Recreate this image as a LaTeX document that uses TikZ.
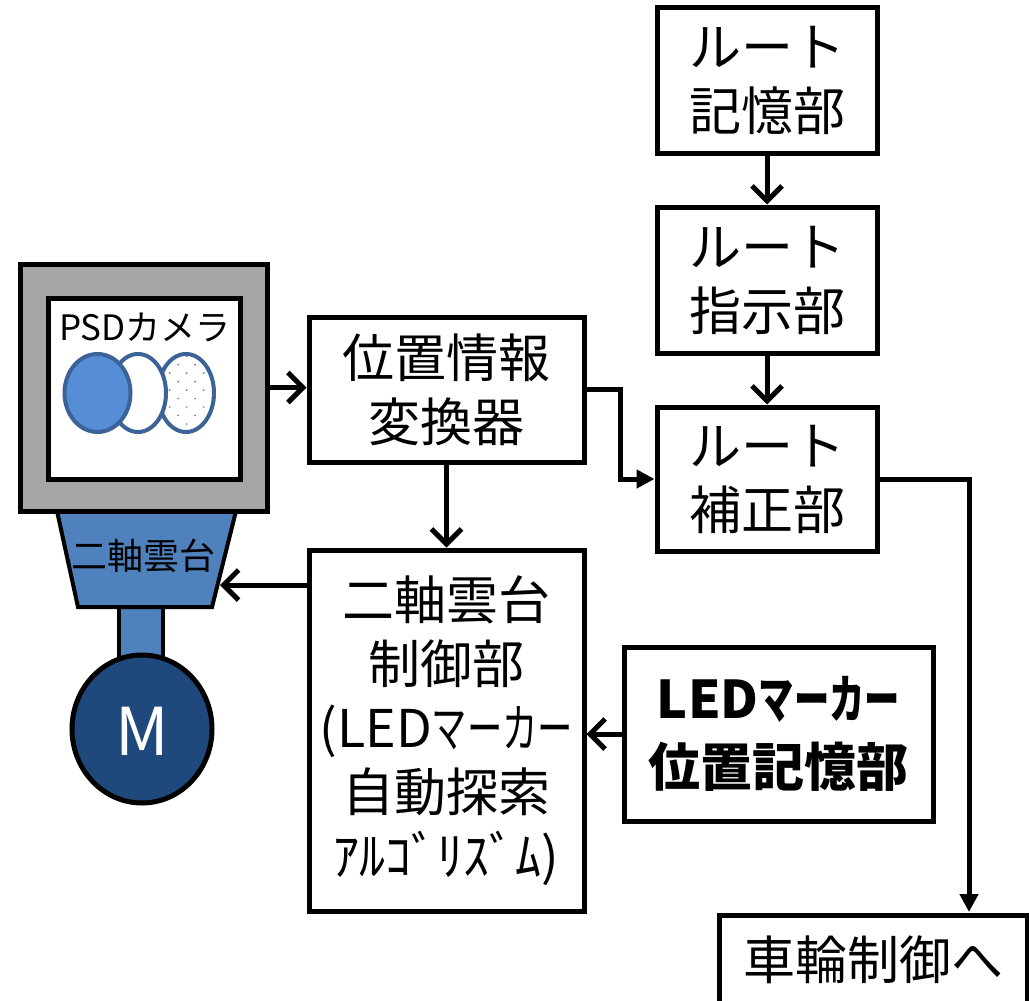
\documentclass[tikz,border=0pt]{standalone}
\usepackage{fontspec}
\setmainfont{Noto Sans CJK JP}
\newfontfamily\narrowkana{Noto Sans CJK JP}[FakeStretch=0.68]
\usetikzlibrary{arrows.meta,patterns.meta}
\definecolor{camgray}{HTML}{A6A6A6}
\definecolor{panblue}{HTML}{4F81BD}
\definecolor{motorblue}{HTML}{1F497D}
\definecolor{lensline}{HTML}{3B6397}
\definecolor{lensfill}{HTML}{558ED5}
\definecolor{lensdot}{HTML}{4A7EBB}
\begin{document}
\begin{tikzpicture}[x=1pt,y=1pt,
	blk/.style={draw,line width=5pt,align=center,inner sep=0pt,font=\fontsize{52}{64}\selectfont},
	opn/.style={line width=5pt,-{Straight Barb[length=15pt,width=30pt]}},
	fld/.style={line width=5pt,-{Triangle[length=18pt,width=18pt]}}]
	\useasboundingbox (0,0) rectangle (1029,-1001);
	\draw[line width=4pt,fill=panblue] (119,-600) rectangle (163,-670);
	\draw[line width=4pt,fill=panblue] (57,-511) -- (236,-511) -- (212,-607) -- (78,-607) -- cycle;
	\node[draw,line width=5pt,fill=camgray,minimum width=247,minimum height=247,inner sep=0pt] (cam) at (143.5,-387.5) {};
	\draw[line width=5pt,fill=white] (48,-298) rectangle (240,-479);
	\node[font=\fontsize{35}{35}\selectfont] (psd) at (145,-327) {PSDカメラ};
	\fill[pattern={Dots[distance=12pt,radius=1pt,angle=45]},pattern color=lensdot] (186,-393) ellipse [x radius=28,y radius=39];
	\draw[line width=4pt,draw=lensline] (186,-393) ellipse [x radius=28,y radius=39];
	\draw[line width=4pt,draw=lensline,fill=white] (138,-393) ellipse [x radius=28,y radius=39];
	\draw[line width=4pt,draw=lensline,fill=lensfill] (97.5,-393) ellipse [x radius=33,y radius=39];
	\node[font=\fontsize{36}{36}\selectfont] (ptz) at (143,-556) {二軸雲台};
	\coordinate (ptzr) at (220,-585);
	\draw[line width=5pt,fill=motorblue] (142,-729) ellipse [x radius=70,y radius=74];
	\node[text=white,font=\fontsize{66}{66}\selectfont] (mot) at (142,-731) {M};
	\node[blk,minimum width=220,minimum height=146] (rmem) at (767,-80) {ルート\\記憶部};
	\node[blk,minimum width=220,minimum height=146] (rins) at (767,-280) {ルート\\指示部};
	\node[blk,minimum width=220,minimum height=144] (rcor) at (767,-479) {ルート\\補正部};
	\node[blk,minimum width=275,minimum height=145] (conv) at (446.5,-389.5) {位置情報\\変換器};
	\node[blk,minimum width=275,minimum height=361] (ctrl) at (446.5,-730.5) {二軸雲台\\制御部\\(LED{\narrowkana マーカー}\\自動探索\\ｱﾙｺﾞﾘｽﾞﾑ)};
	\node[blk,minimum width=309,minimum height=174,font=\bfseries\fontsize{52}{68}\selectfont] (ledm) at (778.5,-734) {LED{\narrowkana\bfseries マーカー}\\位置記憶部};
	\node[blk,minimum width=308,minimum height=90] (whl) at (873,-960) {車輪制御へ};
	\coordinate (whltop) at (969,-912);
	\draw[opn] (cam.east) -- (cam.east -| conv.west);
	\draw[opn] (rmem) -- (rins);
	\draw[opn] (rins) -- (rcor);
	\draw[fld] (conv.east) -- ++(34,0) |- (rcor.west);
	\draw[opn] (conv) -- (ctrl);
	\draw[opn] (ledm.west) -- (ledm.west -| ctrl.east);
	\draw[opn] (ctrl.west |- ptzr) -- (ptzr);
	\draw[fld] (rcor.east) -| (whltop);
\end{tikzpicture}
\end{document}
